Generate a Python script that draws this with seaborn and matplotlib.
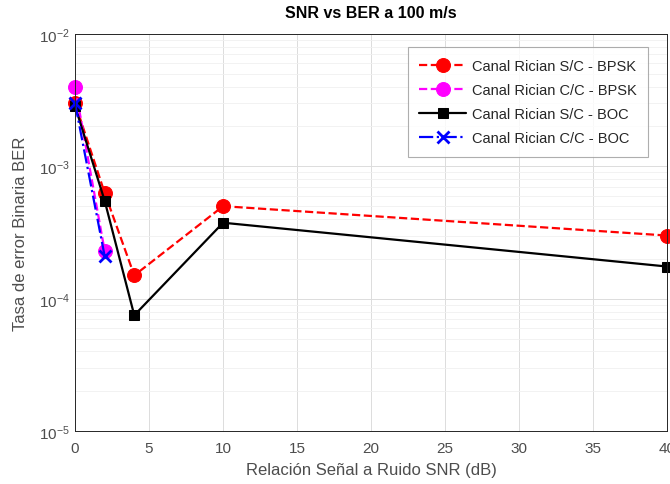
import matplotlib
matplotlib.use("Agg")
import matplotlib.pyplot as plt
import seaborn as sns
import numpy as np
from matplotlib.ticker import LogLocator, FixedLocator

# SNR (dB) and BER for each channel / modulation case
snr_sc = [0, 2, 4, 10, 40]
snr_cc = [0, 2]
ber_sc_bpsk = [3.0e-3, 6.3e-4, 1.5e-4, 5.0e-4, 3.0e-4]
ber_cc_bpsk = [4.0e-3, 2.3e-4]
ber_sc_boc = [2.85e-3, 5.5e-4, 7.5e-5, 3.75e-4, 1.75e-4]
ber_cc_boc = [3.0e-3, 2.1e-4]

labels = ["Canal Rician S/C - BPSK", "Canal Rician C/C - BPSK",
          "Canal Rician S/C - BOC", "Canal Rician C/C - BOC"]

sns.set_style("white")
plt.rcParams["font.family"] = ["Liberation Sans", "DejaVu Sans"]

fig = plt.figure(figsize=(6.7, 4.85), dpi=100)
ax = fig.add_axes([0.112, 0.109, 0.884, 0.819])

sns.lineplot(x=snr_sc, y=ber_sc_bpsk, ax=ax, color="#ff0000", linestyle="--",
             marker="o", markersize=10, markeredgecolor="#ff0000", linewidth=1.6,
             label=labels[0], clip_on=False)
sns.lineplot(x=snr_cc, y=ber_cc_bpsk, ax=ax, color="#ff00ff", linestyle="--",
             marker="o", markersize=10, markeredgecolor="#ff00ff", linewidth=1.6,
             label=labels[1], clip_on=False)
sns.lineplot(x=snr_sc, y=ber_sc_boc, ax=ax, color="black", linestyle="-",
             marker="s", markersize=7, markeredgecolor="black", linewidth=1.6,
             label=labels[2], clip_on=False)
sns.lineplot(x=snr_cc, y=ber_cc_boc, ax=ax, color="#0000ff", linestyle="-.",
             marker="x", markersize=8, markeredgewidth=2, markeredgecolor="#0000ff",
             linewidth=1.6, label=labels[3], clip_on=False)

ax.set_yscale("log")
ax.set_xlim(0, 40)
ax.set_ylim(1e-5, 1e-2)
ax.xaxis.set_major_locator(FixedLocator(np.arange(0, 41, 5)))
ax.yaxis.set_major_locator(LogLocator(base=10, numticks=10))
ax.yaxis.set_minor_locator(LogLocator(base=10, subs=np.arange(2, 10), numticks=20))

ax.grid(True, which="major", color="#dcdcdc", linewidth=0.7)
ax.grid(True, which="minor", axis="y", color="#f0f0f0", linewidth=0.6)
ax.set_axisbelow(True)

ax.tick_params(axis="both", which="both", direction="in", colors="#262626",
               labelcolor="#4d4d4d", labelsize=11)
ax.tick_params(which="major", length=4)
ax.tick_params(which="minor", length=2)
ax.tick_params(axis="x", pad=7)
for s in ax.spines.values():
    s.set_color("#262626")
    s.set_linewidth(0.7)

ax.set_title("SNR vs BER a 100 m/s", fontsize=11.5, fontweight="bold", color="black", pad=12)
ax.set_xlabel("Relación Señal a Ruido SNR (dB)", fontsize=12, color="#4d4d4d", labelpad=5)
ax.set_ylabel("Tasa de error Binaria BER", fontsize=12, color="#4d4d4d", labelpad=8)

leg = ax.legend(loc="upper right", bbox_to_anchor=(0.98, 0.985), fontsize=10.5,
                frameon=True, fancybox=False, edgecolor="#9a9a9a",
                handlelength=3.2, handletextpad=0.4, borderpad=0.8, labelspacing=0.7)
leg.get_frame().set_linewidth(0.8)
for t in leg.get_texts():
    t.set_color("#262626")

fig.savefig("out.png", dpi=100)
